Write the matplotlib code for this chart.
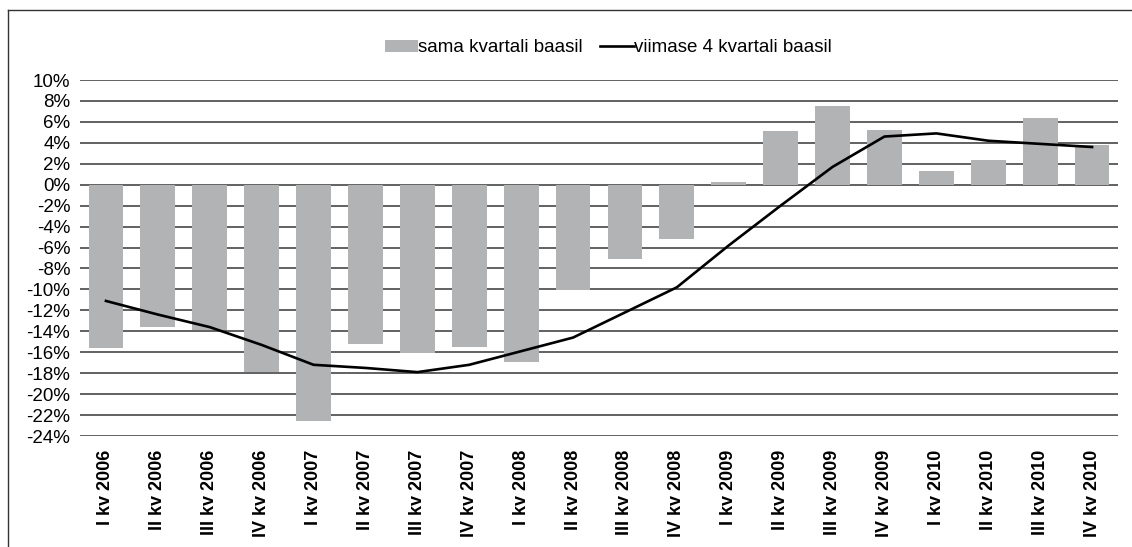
import matplotlib
matplotlib.use("Agg")
import matplotlib.pyplot as plt
from matplotlib.lines import Line2D
import numpy as np

plt.rcParams['font.family'] = ['Liberation Sans', 'DejaVu Sans']

# quarters shown on the x axis
quarters = ["I kv 2006", "II kv 2006", "III kv 2006", "IV kv 2006",
            "I kv 2007", "II kv 2007", "III kv 2007", "IV kv 2007",
            "I kv 2008", "II kv 2008", "III kv 2008", "IV kv 2008",
            "I kv 2009", "II kv 2009", "III kv 2009", "IV kv 2009",
            "I kv 2010", "II kv 2010", "III kv 2010", "IV kv 2010"]

# same quarter basis (bars), %
same_quarter = [-15.6, -13.6, -13.9, -17.9, -22.6, -15.2, -16.1, -15.5,
                -16.9, -10.1, -7.1, -5.2, 0.25, 5.1, 7.5, 5.2,
                1.3, 2.4, 6.4, 3.8]

# last 4 quarters basis (line), %
last_four = [-11.1, -12.4, -13.6, -15.3, -17.2, -17.5, -17.9, -17.2,
             -15.9, -14.6, -12.2, -9.8, -5.8, -2.0, 1.7, 4.6,
             4.9, 4.2, 3.9, 3.6]

y_ticks = list(range(-24, 11, 2))

W, H = 1132, 547
fig = plt.figure(figsize=(W / 100, H / 100), dpi=100)
ax = fig.add_axes([80 / W, 1 - 436 / H, (1118 - 80) / W, (436 - 80) / H])

x = np.arange(len(quarters))
bars = ax.bar(x, same_quarter, width=0.67, color='#b2b3b5', zorder=2,
              label='sama kvartali baasil')
line, = ax.plot(x, last_four, color='black', lw=1.9, zorder=3,
                label='viimase 4 kvartali baasil')

ax.set_xlim(-0.5, len(quarters) - 0.5)
ax.set_ylim(-24, 10)
ax.set_yticks(y_ticks)
ax.set_yticklabels([f"{t}%" for t in y_ticks], fontsize=13.5)
ax.set_xticks(x)
ax.set_xticklabels(quarters, rotation=90, fontsize=13, fontweight='bold')
ax.tick_params(axis='both', length=0)
ax.tick_params(axis='y', pad=7)
ax.tick_params(axis='x', pad=10)

ax.set_axisbelow(True)
ax.yaxis.grid(True, color='#555555', lw=1.3)
for s in ax.spines.values():
    s.set_visible(False)

ax.legend(handles=[bars, line], loc='center', bbox_to_anchor=(608 / W, 1 - 48 / H),
          bbox_transform=fig.transFigure, ncol=2, frameon=False, fontsize=13.5,
          handlelength=1.8, handletextpad=0.0, columnspacing=0.9, handleheight=0.55)

# chart border (left and top edges)
fig.add_artist(Line2D([7.5 / W, 7.5 / W], [0, 1 - 10 / H], color='#333333', lw=1.0,
                      transform=fig.transFigure))
fig.add_artist(Line2D([7.5 / W, 1], [1 - 10 / H, 1 - 10 / H], color='#333333', lw=1.0,
                      transform=fig.transFigure))

fig.savefig("out.png", dpi=100)
